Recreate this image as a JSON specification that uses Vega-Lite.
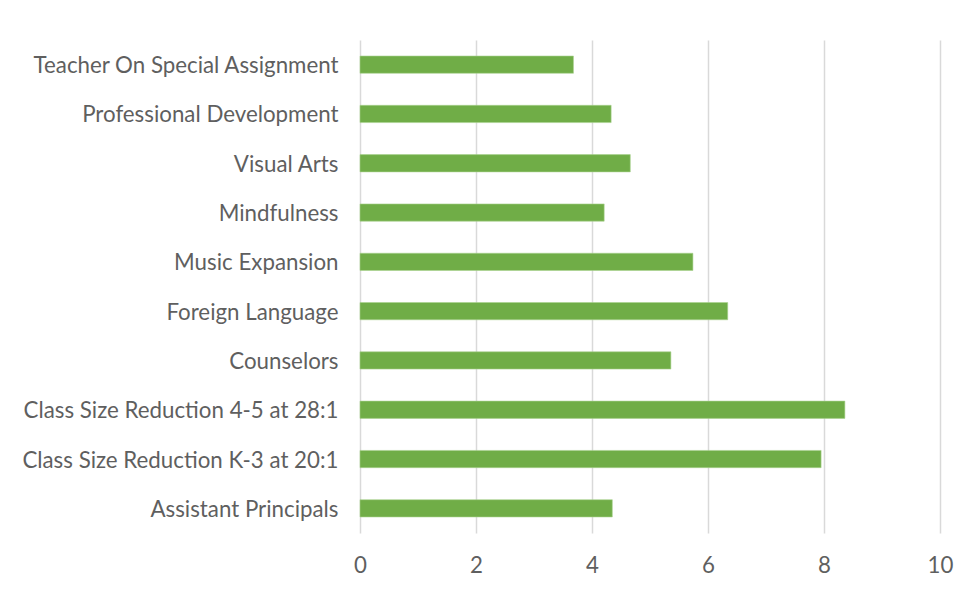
{
  "$schema": "https://vega.github.io/schema/vega-lite/v6.json",
  "autosize": {"type": "none"},
  "padding": {"left": 360, "top": 40, "right": 29, "bottom": 58},
  "width": 580,
  "height": 493,
  "background": "white",
  "config": {"view": {"stroke": null}, "font": "Lato"},
  "data": {"values": [
    {"category": "Teacher On Special Assignment", "value": 3.68},
    {"category": "Professional Development", "value": 4.33},
    {"category": "Visual Arts", "value": 4.66},
    {"category": "Mindfulness", "value": 4.21},
    {"category": "Music Expansion", "value": 5.74},
    {"category": "Foreign Language", "value": 6.34},
    {"category": "Counselors", "value": 5.36},
    {"category": "Class Size Reduction 4-5 at 28:1", "value": 8.36},
    {"category": "Class Size Reduction K-3 at 20:1", "value": 7.95},
    {"category": "Assistant Principals", "value": 4.35}
  ]},
  "mark": {"type": "bar", "color": "#70ad47", "stroke": "#a9d18e", "strokeWidth": 0.6},
  "encoding": {
    "y": {
      "field": "category", "type": "nominal", "sort": null, "title": null,
      "scale": {"paddingInner": 0.65, "paddingOuter": 0.325},
      "axis": {"domain": false, "ticks": false, "labelPadding": 22, "labelFontSize": 22.3, "labelColor": "#5f5f5f", "labelFont": "Lato", "labelLimit": 400, "labelOffset": 1.5}
    },
    "x": {
      "field": "value", "type": "quantitative", "title": null,
      "scale": {"domain": [0, 10], "nice": false},
      "axis": {"values": [0, 2, 4, 6, 8, 10], "domain": false, "ticks": false, "labelPadding": 21, "labelFontSize": 22.3, "labelColor": "#5f5f5f", "labelFont": "Lato", "gridColor": "#d9d9d9", "gridWidth": 1.5, "labelFlush": false}
    }
  }
}
